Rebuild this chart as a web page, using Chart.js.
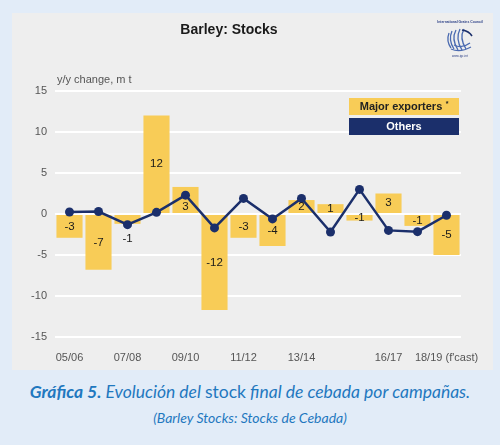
<!DOCTYPE html>
<html>
<head>
<meta charset="utf-8">
<script src="https://cdn.jsdelivr.net/npm/chart.js@4"></script>
<style>
body { margin: 0; width: 500px; height: 445px; background: #e2ecf8; position: relative; overflow: hidden; font-family: "Liberation Sans", Arial, sans-serif; }
#panel { position: absolute; left: 12px; top: 13px; width: 481px; height: 357px; background: #eeeeee; }
#panel canvas { position: absolute; left: 0; top: 0; }
#logo { position: absolute; left: 432px; top: 19px; }
.cap { position: absolute; left: 0; width: 500px; text-align: center; color: #1f78bf; font-family: Lato, "Open Sans", sans-serif; font-style: italic; }
#cap1 { top: 381px; font-size: 17.5px; }
#cap2 { top: 409px; font-size: 14px; }
</style>
</head>
<body>
<div id="panel">
  <canvas id="stocksChart" width="481" height="357"></canvas>
</div>
<svg id="logo" width="56" height="42" viewBox="0 0 56 42">
  <text x="28" y="4" font-size="3.4" text-anchor="middle" fill="#2b3f86" font-family="Liberation Sans" font-weight="bold">International Grains Council</text>
  <g fill="none" stroke="#4a6ab0" stroke-width="1.3">
    <path d="M17 14 Q14 22 19 29"/>
    <path d="M20 12 Q16 21 22 30"/>
    <path d="M24 11 Q19 20 26 31"/>
    <path d="M28 10 Q23 20 30 31"/>
    <path d="M32 10 Q27 19 34 30"/>
    <path d="M19 30 Q28 34 39 28"/>
    <path d="M22 26 Q30 30 38 24"/>
  </g>
  <path d="M30 11 Q37 12 40 17" fill="none" stroke="#1b2f6b" stroke-width="1.6"/>
  <text x="28" y="38" font-size="3.2" text-anchor="middle" fill="#2b3f86" font-family="Liberation Sans">www.igc.int</text>
</svg>
<div class="cap" id="cap1"><b>Gráfica 5.</b> Evolución del <span style="font-style:normal">stock</span> final de cebada por campañas.</div>
<div class="cap" id="cap2">(Barley Stocks: Stocks de Cebada)</div>
<script>
const seasons = ['05/06', '06/07', '07/08', '08/09', '09/10', '10/11', '11/12',
                 '12/13', '13/14', '14/15', '15/16', '16/17', '17/18', '18/19'];
const seasonTicks = ['05/06', '', '07/08', '', '09/10', '', '11/12',
                     '', '13/14', '', '', '16/17', '', "18/19 (f'cast)"];
const majorExporters = [-2.9, -6.8, -1.2, 12.0, 3.3, -11.7, -2.9, -3.9, 1.7, 1.2, -0.8, 2.5, -1.45, -5.0];
const exporterLabels = ['-3', '-7', '-1', '12', '3', '-12', '-3', '-4', '2', '1', '-1', '3', '-1', '-5'];
const others = [0.25, 0.3, -1.3, 0.2, 2.3, -1.7, 1.9, -0.6, 1.9, -2.2, 3.0, -2.0, -2.15, -0.15];
const yTicks = [15, 10, 5, 0, -5, -10, -15];

const yellow = '#f8cc57';
const navy = '#1b2f6b';

// title, unit label, legend boxes and bar value labels
const decorPlugin = {
    id: 'decor',
    afterDatasetsDraw(chart) {
    const ctx = chart.ctx;
    const area = chart.chartArea;
    const bars = chart.getDatasetMeta(0).data;
    const pts = chart.getDatasetMeta(1).data;
    ctx.save();
    ctx.textAlign = 'center';
    ctx.textBaseline = 'middle';
    ctx.fillStyle = '#1a1a1a';
    ctx.font = '11.5px "Liberation Sans"';
    bars.forEach((bar, i) => {
        const top = Math.min(bar.y, bar.base);
        const bottom = Math.max(bar.y, bar.base);
        let y = (top + bottom) / 2;
        const py = pts[i].y;
        if (bottom - top < 12 && Math.abs(py - y) < 10) {
        y = bottom + 15;
        } else if (Math.abs(py - y) < 8) {
        y += py < y ? 7 : -7;
        }
        ctx.fillText(exporterLabels[i], bar.x, y);
    });

    // legend
    const boxW = 110, boxH = 17;
    const bx = area.right - boxW - 2;
    const by = area.top + 7;
    ctx.fillStyle = yellow;
    ctx.fillRect(bx, by, boxW, boxH);
    ctx.fillStyle = navy;
    ctx.fillRect(bx, by + boxH + 3, boxW, boxH);
    ctx.font = 'bold 11px "Liberation Sans"';
    ctx.fillStyle = '#222';
    ctx.fillText('Major exporters', bx + boxW / 2 - 3, by + boxH / 2 + 0.5);
    ctx.font = 'bold 7px "Liberation Sans"';
    ctx.fillText('*', bx + boxW / 2 + 43, by + 6);
    ctx.font = 'bold 11px "Liberation Sans"';
    ctx.fillStyle = '#ffffff';
    ctx.fillText('Others', bx + boxW / 2, by + boxH * 1.5 + 3.5);

    // title and unit
    ctx.fillStyle = '#1a1a1a';
    ctx.font = 'bold 14px "Liberation Sans"';
    ctx.fillText('Barley: Stocks', 217, 17);
    ctx.textAlign = 'left';
    ctx.fillStyle = '#555';
    ctx.font = '11px "Liberation Sans"';
    ctx.fillText('y/y change, m t', area.left + 2, 67);
    ctx.restore();
    }
};

const ctx = document.getElementById('stocksChart');
new Chart(ctx, {
    data: {
    labels: seasons,
    datasets: [{
        type: 'bar',
        label: 'Major exporters *',
        data: majorExporters,
        backgroundColor: yellow,
        categoryPercentage: 1,
        barPercentage: 0.9,
        order: 2
    }, {
        type: 'line',
        label: 'Others',
        data: others,
        borderColor: navy,
        backgroundColor: navy,
        borderWidth: 2.5,
        pointRadius: 4.5,
        pointBackgroundColor: navy,
        pointBorderWidth: 0,
        tension: 0,
        order: 1
    }]
    },
    options: {
    responsive: false,
    animation: false,
    layout: { padding: { top: 78, right: 32, left: 0, bottom: 0 } },
    plugins: {
        legend: { display: false },
        tooltip: { enabled: false }
    },
    scales: {
        x: {
        grid: { display: false },
        border: { display: false },
        ticks: {
            autoSkip: false,
            maxRotation: 0,
            padding: 6,
            color: '#555',
            font: { family: 'Liberation Sans', size: 11 },
            callback: (v, i) => seasonTicks[i]
        },
        afterFit: (s) => { s.height = 33; }
        },
        y: {
        min: -15,
        max: 15,
        afterBuildTicks: (s) => { s.ticks = yTicks.map(v => ({ value: v })); },
        grid: { color: '#ffffff', lineWidth: 2, drawTicks: false },
        border: { display: false },
        ticks: {
            padding: 8,
            color: '#555',
            font: { family: 'Liberation Sans', size: 11 }
        },
        afterFit: (s) => { s.width = 43; }
        }
    }
    },
    plugins: [decorPlugin]
});
</script>
</body>
</html>
